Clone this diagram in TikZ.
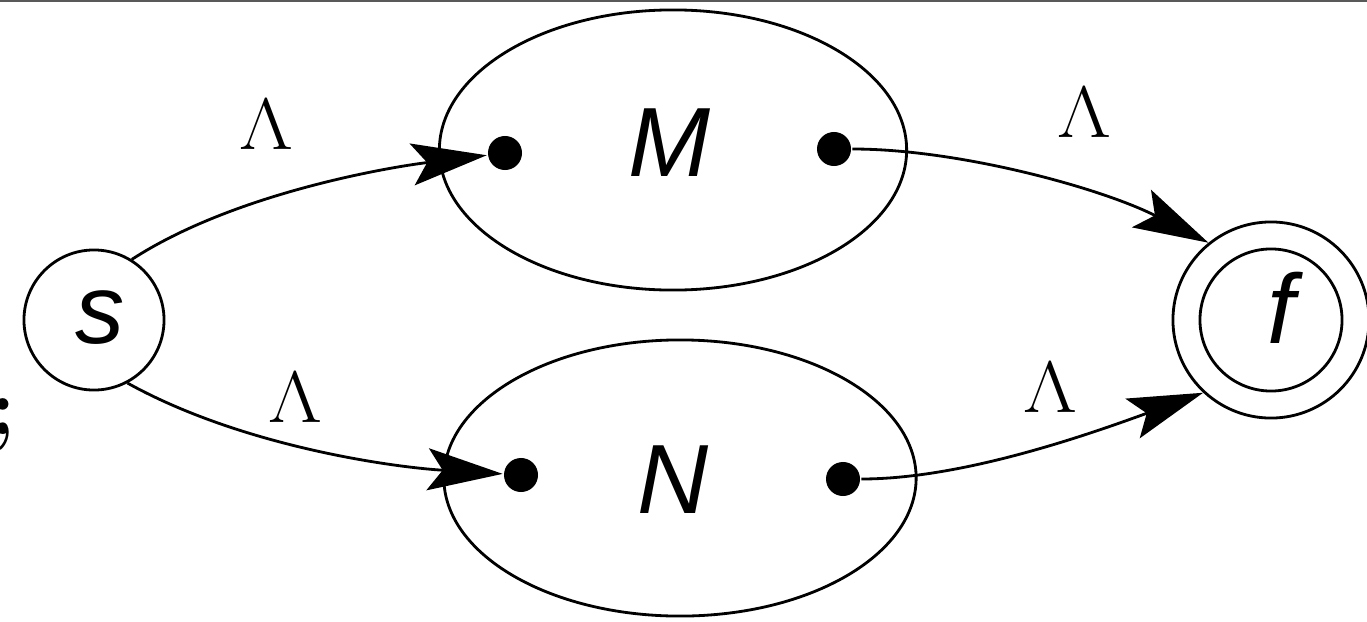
\documentclass[tikz,border=0pt]{standalone}
\usepackage{fontspec}
\setsansfont{Liberation Sans}
\usetikzlibrary{shapes.geometric,arrows.meta}
\tikzset{
  every picture/.style={line width=0.8pt},
  state/.style={circle, draw, inner sep=0pt},
  blob/.style={ellipse, draw, minimum width=4.67cm, minimum height=2.8cm, inner sep=0pt},
  dot/.style={circle, fill, inner sep=0pt, minimum size=0.34cm},
  lbl/.style={font=\fontsize{28}{30}\selectfont\sffamily\itshape, inner sep=0pt},
  lam/.style={font=\fontsize{21}{23}\selectfont, inner sep=0pt, xscale=1.15, transform shape},
  arr/.style={-{Stealth[length=7.5mm, width=4.2mm, inset=1.5mm]}}
}
\begin{document}
\begin{tikzpicture}[x=0.01cm, y=0.01cm]
\useasboundingbox (0,0) rectangle (1367,-621);
\fill[gray!70!black] (0,0) rectangle (1367,-2);
% states
\node[state, minimum size=1.4cm] (s) at (94,-320) {};
\node[lbl] (slabel) at (100,-318) {s};
\node[state, minimum size=1.96cm] (f) at (1271,-320) {};
\node[state, minimum size=1.42cm] (fi) at (1271,-320) {};
\node[lbl] (flabel) at (1281,-308) {f};
% machines
\node[blob] (M) at (673,-150) {};
\node[lbl] (Mlabel) at (669,-143) {M};
\node[blob, minimum width=4.72cm, minimum height=2.76cm] (N) at (680,-478) {};
\node[lbl] (Nlabel) at (673,-480) {N};
\node[dot] (Ml) at (505,-153) {};
\node[dot] (Mr) at (834,-149) {};
\node[dot] (Nl) at (521,-475) {};
\node[dot] (Nr) at (843,-479) {};
% connectors
\draw[arr] (s.58) .. controls +(33:1.2cm) and +(187:1.2cm) .. (Ml);
\draw[arr] (s.298) .. controls +(-29:1.3cm) and +(176.5:1.3cm) .. (Nl);
\draw[arr] (Mr) .. controls +(0:1.25cm) and +(153:1.2cm) .. (f.129);
\draw[arr] (Nr) .. controls +(0:1.2cm) and +(200:1.2cm) .. (f.227);
% labels
\node[lam] (l1) at (266,-125) {$\Lambda$};
\node[lam] (l2) at (1084,-113) {$\Lambda$};
\node[lam] (l3) at (295,-398) {$\Lambda$};
\node[lam] (l4) at (1050,-388) {$\Lambda$};
\node[font=\fontsize{23}{23}\selectfont\bfseries, inner sep=0pt, anchor=base] (semi) at (3,-434) {;};
\end{tikzpicture}
\end{document}
